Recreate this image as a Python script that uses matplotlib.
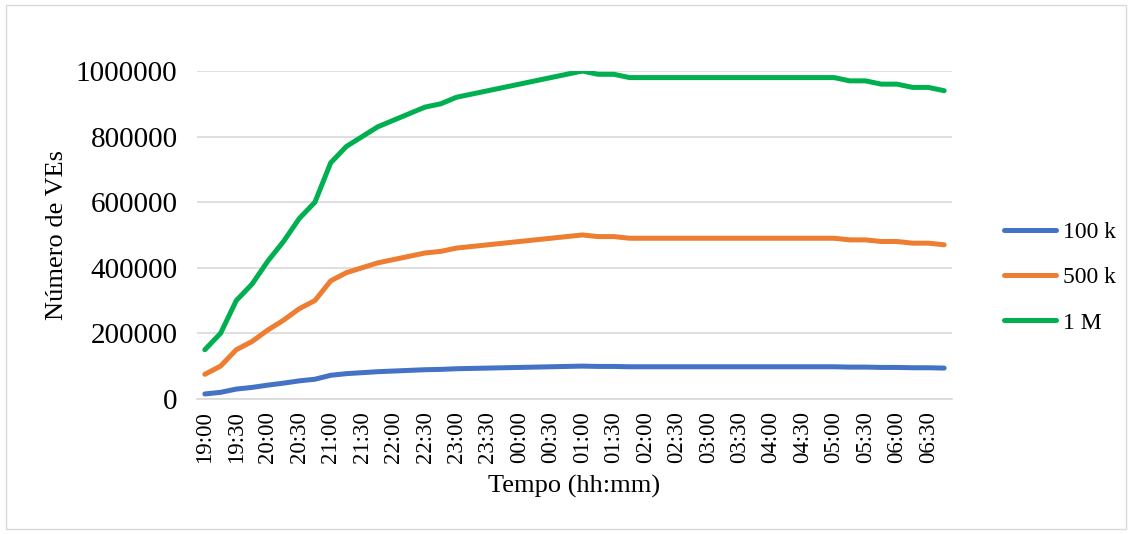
import matplotlib.pyplot as plt

times = ["19:00","19:15","19:30","19:45","20:00","20:15","20:30","20:45","21:00","21:15","21:30","21:45",
         "22:00","22:15","22:30","22:45","23:00","23:15","23:30","23:45","00:00","00:15","00:30","00:45",
         "01:00","01:15","01:30","01:45","02:00","02:15","02:30","02:45","03:00","03:15","03:30","03:45",
         "04:00","04:15","04:30","04:45","05:00","05:15","05:30","05:45","06:00","06:15","06:30","06:45"]
m1 = [150000,200000,300000,350000,420000,480000,550000,600000,720000,770000,800000,830000,
      850000,870000,890000,900000,920000,930000,940000,950000,960000,970000,980000,990000,
      1000000,990000,990000,980000,980000,980000,980000,980000,980000,980000,980000,980000,
      980000,980000,980000,980000,980000,970000,970000,960000,960000,950000,950000,940000]
k500 = [75000,100000,150000,175000,210000,240000,275000,300000,360000,385000,400000,415000,
        425000,435000,445000,450000,460000,465000,470000,475000,480000,485000,490000,495000,
        500000,495000,495000,490000,490000,490000,490000,490000,490000,490000,490000,490000,
        490000,490000,490000,490000,490000,485000,485000,480000,480000,475000,475000,470000]
k100 = [15000,20000,30000,35000,42000,48000,55000,60000,72000,77000,80000,83000,
        85000,87000,89000,90000,92000,93000,94000,95000,96000,97000,98000,99000,
        100000,99000,99000,98000,98000,98000,98000,98000,98000,98000,98000,98000,
        98000,98000,98000,98000,98000,97000,97000,96000,96000,95000,95000,94000]

plt.rcParams['font.family'] = ['Liberation Serif', 'DejaVu Serif']
fig = plt.figure(figsize=(11.32, 5.34), dpi=100)
ax = fig.add_axes([0.174, 0.253, 0.667, 0.614])
x = list(range(len(times)))
ax.plot(x, k100, color='#4472C4', lw=3.6, label='100 k', solid_capstyle='round')
ax.plot(x, k500, color='#ED7D31', lw=3.6, label='500 k', solid_capstyle='round')
ax.plot(x, m1, color='#00B050', lw=3.6, label='1 M', solid_capstyle='round')
ax.set_xlim(-0.5, len(times)-0.5)
ax.set_ylim(0, 1000000)
ax.set_yticks(range(0, 1000001, 200000))
ax.set_yticklabels([str(v) for v in range(0, 1000001, 200000)], fontsize=21)
ax.tick_params(axis='y', length=0, pad=14)
ax.set_xticks(x[::2])
ax.set_xticklabels(times[::2], rotation=90, fontsize=16.5)
ax.tick_params(axis='x', length=0, pad=9)
ax.grid(axis='y', color='#D9D9D9', lw=1.2)
ax.set_axisbelow(True)
for s in ['top', 'right', 'left']:
    ax.spines[s].set_visible(False)
ax.spines['bottom'].set_color('#D9D9D9')
ax.spines['bottom'].set_linewidth(1.2)
ax.set_xlabel('Tempo (hh:mm)', fontsize=19, labelpad=8)
ax.set_ylabel('Número de VEs', fontsize=19, labelpad=6)
fig.legend(loc='center left', bbox_to_anchor=(0.868, 0.48), frameon=False, fontsize=17,
           handlelength=2.2, labelspacing=1.0, handletextpad=0.3)
fig.patches.append(plt.Rectangle((0.005, 0.01), 0.99, 0.98, transform=fig.transFigure,
                                 fill=False, edgecolor='#D9D9D9', lw=1))
fig.savefig('out.png', dpi=100)
